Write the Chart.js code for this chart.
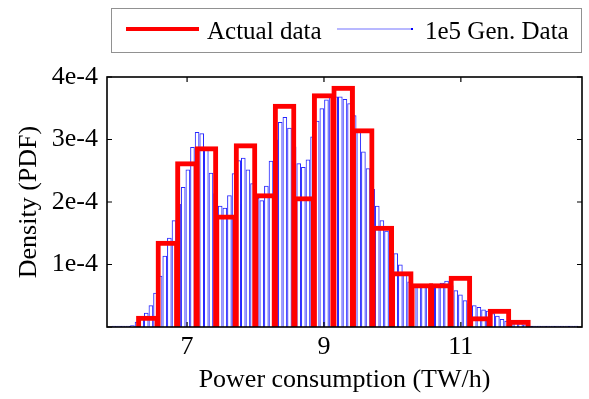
<!DOCTYPE html>
<html>
<head>
<meta charset="utf-8">
<script src="https://cdn.jsdelivr.net/npm/chart.js@4.4.1/dist/chart.umd.min.js"></script>
<style>
  html, body { margin: 0; padding: 0; background: #fff; }
</style>
</head>
<body>
<canvas id="grafico" width="589" height="399"></canvas>
<script>
// Histograma: dados reais (vermelho, 20 classes) x 1e5 dados gerados (azul, classes finas)
// Densidades em unidades de 1e-4

const SERIES = ['Actual data', '1e5 Gen. Data'];

// classes do histograma real: início e largura (TW/h)
const RED_START = 6.284, RED_BIN = 0.2854;
const actualDensity = [0.15, 1.35, 2.62, 2.86, 1.77, 2.91, 2.11, 3.54, 2.06, 3.71,
                       3.83, 3.15, 1.59, 0.86, 0.67, 0.67, 0.79, 0.14, 0.26, 0.085];

// classes do histograma gerado
const GEN_START = 5.83, GEN_BIN = 0.0675;
const genDensity = [
  0.01, 0.02, 0.02, 0.02, 0.02, 0.03, 0.085, 0.165, 0.23, 0.35,
  0.55, 0.82, 1.14, 1.43, 1.71, 1.97, 2.24, 2.52, 2.88, 3.12,
  3.10, 2.88, 2.47, 2.14, 1.94, 1.91, 2.11, 2.46, 2.67, 2.71,
  2.52, 2.30, 2.07, 2.03, 2.26, 2.66, 3.00, 3.28, 3.36, 3.19,
  2.89, 2.62, 2.56, 2.68, 3.05, 3.30, 3.50, 3.64, 3.69, 3.69,
  3.69, 3.65, 3.58, 3.39, 3.13, 2.81, 2.54, 2.21, 1.94, 1.71,
  1.54, 1.35, 1.18, 1.00, 0.84, 0.73, 0.65, 0.64, 0.64, 0.64,
  0.65, 0.67, 0.71, 0.74, 0.67, 0.59, 0.52, 0.43, 0.38, 0.35,
  0.32, 0.28, 0.26, 0.22, 0.18, 0.13, 0.10, 0.085, 0.075, 0.06,
  0.04, 0.02, 0.02, 0.02, 0.02, 0.02, 0.02, 0.02, 0.02, 0.02,
  0.02, 0.02
];

const xTicks = [7, 9, 11];
const yTicks = [0, 1, 2, 3, 4];
const yTickLabels = ['', '1e-4', '2e-4', '3e-4', '4e-4'];
const X_MIN = 5.83, X_MAX = 12.77;

const FONTE = 'Liberation Serif';

const pontosReais = actualDensity.map((v, i) => ({ x: RED_START + RED_BIN * (i + 0.5), y: v }));
const pontosGerados = genDensity.map((v, i) => ({ x: GEN_START + GEN_BIN * (i + 0.5), y: v }));

// moldura estilo matlab + ticks pra dentro + legenda com caixa
const moldura = {
  id: 'moldura',
  afterDatasetsDraw(chart) {
    const { ctx, chartArea: a, scales } = chart;
    ctx.save();
    ctx.strokeStyle = '#000';
    ctx.lineWidth = 1.6;
    ctx.strokeRect(a.left, a.top, a.right - a.left, a.bottom - a.top);
    ctx.lineWidth = 1.2;
    ctx.beginPath();
    xTicks.forEach(v => {
      const px = scales.x.getPixelForValue(v);
      ctx.moveTo(px, a.bottom); ctx.lineTo(px, a.bottom - 5);
      ctx.moveTo(px, a.top); ctx.lineTo(px, a.top + 5);
    });
    yTicks.forEach(v => {
      const py = scales.y.getPixelForValue(v);
      ctx.moveTo(a.left, py); ctx.lineTo(a.left + 5, py);
      ctx.moveTo(a.right, py); ctx.lineTo(a.right - 5, py);
    });
    ctx.stroke();
    ctx.restore();
  },
  afterDraw(chart) {
    const ctx = chart.ctx;
    const ds = chart.data.datasets;
    ctx.save();
    ctx.setLineDash([1, 1]);
    ctx.strokeStyle = '#222';
    ctx.lineWidth = 1;
    ctx.strokeRect(111.5, 8.5, 470, 44);
    ctx.setLineDash([]);

    ctx.font = '25px "' + FONTE + '"';
    ctx.fillStyle = '#000';
    ctx.textBaseline = 'alphabetic';

    // item 1
    ctx.strokeStyle = ds[0].borderColor;
    ctx.lineWidth = 4;
    ctx.beginPath(); ctx.moveTo(126, 29); ctx.lineTo(199, 29); ctx.stroke();
    ctx.fillText(ds[0].label, 207, 39);

    // item 2
    ctx.strokeStyle = 'rgba(120,120,255,0.7)';
    ctx.lineWidth = 1.5;
    ctx.beginPath(); ctx.moveTo(337, 29); ctx.lineTo(412, 29); ctx.stroke();
    ctx.fillStyle = '#0000ff';
    ctx.fillRect(411, 28, 2, 2);
    ctx.fillStyle = '#000';
    ctx.fillText(ds[1].label, 425, 39);
    ctx.restore();
  }
};

const fonteEixo = { family: FONTE, size: 26 };

new Chart(document.getElementById('grafico'), {
  type: 'bar',
  data: {
    datasets: [
      {
        label: SERIES[0],
        data: pontosReais,
        xAxisID: 'x',
        backgroundColor: 'transparent',
        borderColor: '#ff0000',
        borderWidth: { top: 1, left: 1, right: 1, bottom: 0 },
        borderSkipped: 'bottom',
        inflateAmount: 2,
        barPercentage: 1,
        categoryPercentage: 1,
        grouped: false
      },
      {
        label: SERIES[1],
        data: pontosGerados,
        xAxisID: 'x2',
        backgroundColor: 'transparent',
        borderColor: 'rgba(0,0,255,0.85)',
        borderWidth: 1,
        borderSkipped: 'bottom',
        inflateAmount: 0,
        barPercentage: 1,
        categoryPercentage: 1,
        grouped: false
      }
    ]
  },
  options: {
    responsive: false,
    animation: false,
    devicePixelRatio: 1,
    layout: { padding: { top: 77, left: 10, right: 7, bottom: 0 } },
    plugins: { legend: { display: false }, tooltip: { enabled: false } },
    scales: {
      x: {
        type: 'linear',
        offset: false,
        min: X_MIN,
        max: X_MAX,
        grid: { display: false, drawTicks: false },
        border: { display: false },
        afterBuildTicks: s => { s.ticks = xTicks.map(v => ({ value: v })); },
        ticks: { font: fonteEixo, color: '#000', padding: 5, autoSkip: false, maxRotation: 0 },
        title: { display: true, text: 'Power consumption (TW/h)', font: fonteEixo, color: '#000', padding: { top: 0, bottom: 3 } },
        afterFit: s => { s.height = 72; }
      },
      x2: { type: 'linear', offset: false, min: X_MIN, max: X_MAX, display: false },
      y: {
        min: 0,
        max: 4,
        grid: { display: false, drawTicks: false },
        border: { display: false },
        afterBuildTicks: s => { s.ticks = yTicks.map(v => ({ value: v })); },
        ticks: { font: fonteEixo, color: '#000', padding: 9, callback: (v, i) => yTickLabels[i] },
        title: { display: true, text: 'Density (PDF)', font: fonteEixo, color: '#000', padding: { top: 4, bottom: 0 } },
        afterFit: s => { s.width = 97; }
      }
    }
  },
  plugins: [moldura]
});
</script>
</body>
</html>
